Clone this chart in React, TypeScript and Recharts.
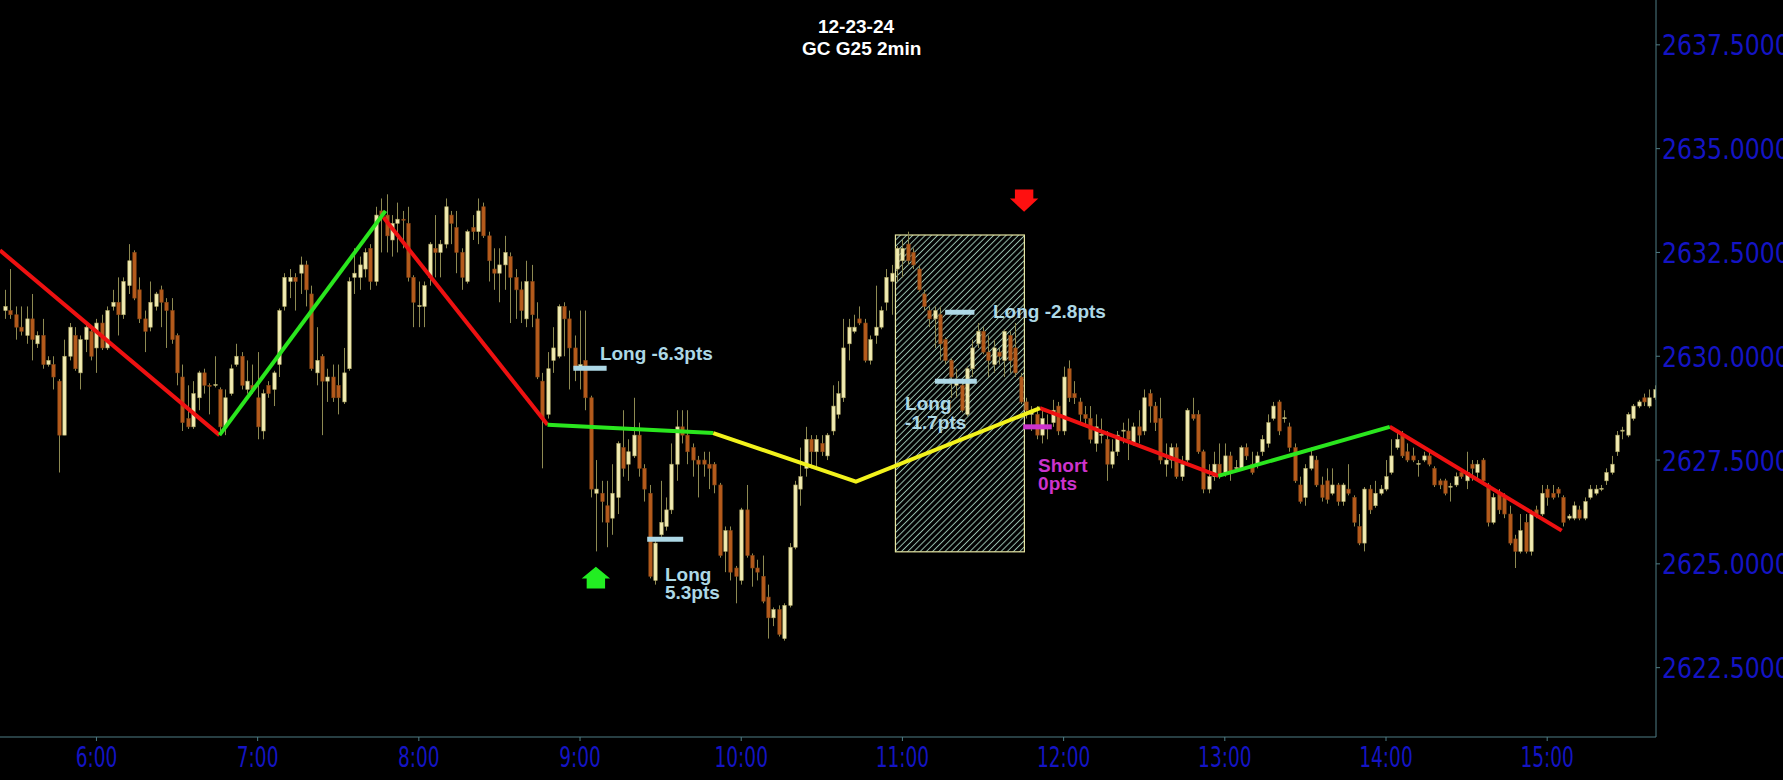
import React from 'react';
import { ComposedChart, Bar, Line, XAxis, YAxis, ReferenceArea, ReferenceDot } from 'recharts';

// ---------- data ----------
const startMinute = 326; // 5:26, 2-minute bars
const barMinutes = 2;

const opens = [
  2631.1, 2631.1, 2631.0, 2630.7, 2630.5, 2630.9, 2630.3, 2630.5, 2629.8, 2629.8,
  2629.4, 2628.1, 2630.0, 2630.5, 2629.6, 2630.4, 2630.6, 2630.2, 2630.8, 2630.2,
  2631.2, 2631.3, 2631.0, 2631.7, 2632.5, 2631.6, 2630.9, 2630.7, 2631.2, 2631.6,
  2631.3, 2631.1, 2630.5, 2629.5, 2628.5, 2628.3, 2629.0, 2629.6, 2629.3, 2629.3,
  2629.2, 2628.3, 2629.1, 2629.8, 2630.0, 2629.2, 2629.3, 2629.0, 2628.2, 2629.3,
  2629.2, 2629.8, 2631.2, 2631.8, 2631.9, 2632.0, 2632.2, 2631.5, 2629.6, 2630.0,
  2629.4, 2629.5, 2629.3, 2628.9, 2629.7, 2631.9, 2631.9, 2632.1, 2632.6, 2631.8,
  2633.5, 2633.4, 2632.8, 2633.2, 2633.3, 2633.2, 2631.9, 2631.2, 2631.2, 2631.9,
  2632.6, 2632.5, 2632.7, 2633.4, 2633.1, 2632.5, 2631.8, 2633.1, 2633.0, 2633.6,
  2632.9, 2632.1, 2632.0, 2632.2, 2632.4, 2631.9, 2631.6, 2630.9, 2631.8, 2630.9,
  2629.4, 2628.6, 2629.9, 2630.0, 2631.2, 2630.9, 2630.2, 2629.7, 2629.9, 2629.0,
  2626.7, 2626.7, 2626.4, 2626.1, 2626.6, 2627.8, 2627.4, 2627.6, 2628.1, 2627.3,
  2626.7, 2624.6, 2625.7, 2625.9, 2626.3, 2627.4, 2628.3, 2628.1, 2627.8, 2627.5,
  2627.5, 2627.4, 2627.4, 2626.9, 2625.3, 2625.8, 2624.9, 2624.6, 2626.3, 2625.2,
  2624.9, 2624.7, 2624.2, 2623.7, 2623.9, 2623.2, 2624.0, 2625.4, 2626.8, 2627.3,
  2628.0, 2627.7, 2627.9, 2627.6, 2628.2, 2628.6, 2629.0, 2630.3, 2630.6, 2630.9,
  2630.8, 2629.9, 2630.5, 2630.7, 2631.3, 2631.8, 2632.1, 2632.3, 2632.7, 2632.5,
  2632.1, 2631.5, 2631.1, 2630.9, 2631.0, 2630.4, 2629.9, 2629.3, 2629.3, 2628.6,
  2629.7, 2630.3, 2630.6, 2630.1, 2629.8, 2630.1, 2629.9, 2630.5, 2630.2, 2629.5,
  2628.9, 2628.6, 2628.6, 2628.1, 2628.3, 2628.4, 2628.8, 2628.2, 2629.7, 2629.1,
  2628.9, 2628.6, 2628.5, 2627.9, 2628.1, 2628.0, 2627.4, 2627.7, 2628.2, 2628.2,
  2627.9, 2628.3, 2628.2, 2629.1, 2628.8, 2628.5, 2627.4, 2627.5, 2627.8, 2627.1,
  2627.5, 2628.6, 2628.6, 2627.7, 2626.8, 2627.1, 2627.4, 2627.2, 2627.6, 2627.3,
  2627.3, 2627.8, 2627.4, 2627.4, 2627.7, 2627.9, 2628.5, 2628.9, 2628.5, 2628.3,
  2627.8, 2626.9, 2626.6, 2627.3, 2627.5, 2626.9, 2627.0, 2626.7, 2626.9, 2626.5,
  2626.8, 2626.6, 2625.9, 2625.5, 2626.8, 2626.4, 2626.7, 2626.8, 2627.2, 2627.8,
  2628.1, 2627.7, 2627.6, 2627.4, 2627.5, 2627.6, 2627.3, 2627.0, 2627.0, 2626.85,
  2626.9, 2627.2, 2627.0, 2627.4, 2627.2, 2627.5, 2626.9, 2626.0, 2626.7, 2626.6,
  2626.2, 2625.6, 2625.3, 2626.0, 2625.3, 2626.3, 2626.2, 2626.8, 2626.7, 2626.8,
  2626.6, 2626.1, 2626.1, 2626.3, 2626.1, 2626.6, 2626.7, 2626.8, 2627.0, 2627.2,
  2627.7, 2628.2, 2628.1, 2628.5, 2628.8, 2629.0, 2628.8, 2629.0,
];

const highs = [
  2631.6, 2632.1, 2631.2, 2631.2, 2631.2, 2631.5, 2630.6, 2630.9, 2630.0, 2630.0,
  2629.45, 2630.4, 2630.8, 2630.7, 2630.5, 2630.8, 2630.7, 2630.9, 2631.0, 2631.2,
  2631.6, 2631.9, 2631.9, 2632.7, 2632.55, 2631.9, 2631.1, 2631.8, 2631.55, 2631.7,
  2631.4, 2631.4, 2630.55, 2629.8, 2629.3, 2629.4, 2629.65, 2629.7, 2629.35, 2630.0,
  2629.25, 2629.2, 2629.8, 2630.3, 2630.1, 2629.9, 2629.8, 2630.1, 2629.2, 2629.4,
  2629.65, 2631.15, 2632.0, 2632.1, 2632.0, 2632.4, 2632.3, 2631.7, 2630.7, 2630.05,
  2629.7, 2629.8, 2629.8, 2630.2, 2631.9, 2632.6, 2632.4, 2632.6, 2632.7, 2633.6,
  2633.8, 2633.9, 2633.4, 2633.7, 2633.5, 2633.6, 2631.95, 2631.8, 2631.8, 2632.75,
  2633.4, 2632.8, 2633.8, 2633.5, 2633.5, 2632.6, 2633.05, 2633.4, 2633.8, 2633.7,
  2633.0, 2632.6, 2632.6, 2632.9, 2632.5, 2632.1, 2631.8, 2632.3, 2632.2, 2631.3,
  2629.6, 2630.1, 2630.7, 2631.25, 2631.3, 2631.1, 2630.5, 2631.1, 2631.1, 2629.05,
  2627.5, 2627.0, 2627.0, 2627.4, 2627.95, 2628.7, 2628.0, 2629.0, 2628.4, 2627.4,
  2626.9, 2625.6, 2627.0, 2626.6, 2627.9, 2628.7, 2628.7, 2628.7, 2627.9, 2627.6,
  2627.7, 2627.7, 2627.45, 2626.95, 2625.9, 2625.9, 2624.95, 2626.35, 2626.9, 2625.25,
  2625.1, 2625.2, 2624.5, 2623.95, 2624.0, 2624.05, 2625.5, 2627.0, 2627.8, 2628.3,
  2628.1, 2628.1, 2628.1, 2628.15, 2629.3, 2629.4, 2630.9, 2630.9, 2631.0, 2631.2,
  2630.9, 2630.5, 2631.7, 2631.2, 2632.1, 2632.2, 2632.65, 2632.8, 2633.0, 2632.6,
  2632.2, 2631.6, 2631.2, 2631.2, 2631.2, 2630.45, 2629.95, 2629.7, 2629.4, 2629.75,
  2630.4, 2630.8, 2630.7, 2630.5, 2630.4, 2630.2, 2630.65, 2630.6, 2630.8, 2629.6,
  2629.0, 2628.8, 2628.8, 2628.75, 2628.6, 2628.95, 2628.9, 2629.75, 2629.9, 2629.4,
  2629.0, 2628.8, 2628.8, 2628.6, 2628.5, 2628.2, 2628.0, 2628.2, 2628.4, 2628.5,
  2628.4, 2628.7, 2629.2, 2629.2, 2628.9, 2629.0, 2627.9, 2627.9, 2627.9, 2627.6,
  2628.75, 2629.0, 2628.7, 2627.75, 2627.4, 2627.7, 2627.9, 2627.9, 2627.7, 2627.5,
  2627.85, 2627.9, 2627.7, 2627.7, 2628.1, 2628.6, 2628.9, 2628.95, 2628.7, 2628.4,
  2627.9, 2627.1, 2627.4, 2627.8, 2627.6, 2627.1, 2627.3, 2627.3, 2626.95, 2626.95,
  2627.4, 2626.65, 2626.2, 2626.85, 2626.9, 2627.0, 2626.9, 2627.5, 2628.0, 2628.2,
  2628.2, 2627.9, 2627.8, 2627.5, 2627.7, 2627.7, 2627.35, 2627.05, 2627.05, 2626.95,
  2627.2, 2627.3, 2627.7, 2627.5, 2627.5, 2627.55, 2626.95, 2626.7, 2626.8, 2626.7,
  2626.4, 2625.7, 2626.2, 2626.2, 2626.3, 2626.4, 2626.9, 2626.9, 2626.9, 2626.85,
  2626.65, 2626.2, 2626.5, 2626.4, 2626.6, 2626.9, 2626.9, 2626.9, 2627.3, 2627.6,
  2628.2, 2628.3, 2628.65, 2628.85, 2628.95, 2629.1, 2629.2, 2629.3,
];

const lows = [
  2630.9, 2630.9, 2630.4, 2630.5, 2630.3, 2629.9, 2630.2, 2629.7, 2629.75, 2629.2,
  2627.2, 2628.1, 2629.9, 2629.65, 2629.2, 2630.1, 2629.9, 2629.6, 2630.15, 2630.15,
  2631.1, 2630.5, 2630.9, 2631.5, 2631.35, 2630.8, 2630.1, 2630.6, 2631.1, 2630.7,
  2630.2, 2630.3, 2629.3, 2628.2, 2628.25, 2628.25, 2628.7, 2629.1, 2628.6, 2629.25,
  2628.1, 2628.1, 2629.05, 2629.75, 2629.2, 2629.1, 2629.1, 2628.0, 2628.0, 2629.0,
  2628.8, 2629.5, 2631.1, 2631.4, 2631.1, 2631.5, 2631.2, 2629.65, 2629.3, 2628.1,
  2628.9, 2628.9, 2628.6, 2628.85, 2629.65, 2631.5, 2631.6, 2631.9, 2631.6, 2631.7,
  2632.5, 2632.5, 2632.4, 2632.5, 2632.6, 2631.8, 2630.7, 2630.7, 2630.7, 2631.7,
  2631.9, 2631.9, 2632.6, 2632.7, 2632.0, 2631.6, 2631.75, 2632.8, 2632.7, 2632.85,
  2631.8, 2631.6, 2631.3, 2631.6, 2630.8, 2630.9, 2630.8, 2630.7, 2630.7, 2629.45,
  2627.3, 2628.5, 2629.6, 2629.95, 2630.0, 2629.2, 2629.4, 2629.2, 2628.7, 2626.6,
  2625.3, 2626.0, 2625.4, 2625.7, 2626.2, 2627.1, 2627.0, 2627.55, 2627.1, 2626.5,
  2624.65, 2624.5, 2625.65, 2625.8, 2626.2, 2627.0, 2627.9, 2627.4, 2627.1, 2626.6,
  2627.1, 2626.8, 2626.7, 2625.15, 2624.8, 2624.6, 2624.05, 2624.5, 2625.15, 2624.45,
  2624.6, 2624.05, 2623.2, 2623.5, 2623.25, 2623.15, 2623.95, 2625.35, 2626.4, 2627.1,
  2627.3, 2627.3, 2627.6, 2627.5, 2628.1, 2628.5, 2628.9, 2629.9, 2630.55, 2630.75,
  2629.85, 2629.8, 2630.3, 2630.65, 2631.1, 2631.0, 2631.8, 2631.9, 2632.2, 2632.1,
  2631.55, 2631.1, 2630.7, 2630.2, 2629.9, 2629.8, 2629.0, 2629.0, 2628.65, 2628.55,
  2629.5, 2630.2, 2630.05, 2629.5, 2629.6, 2629.8, 2629.5, 2629.6, 2629.5, 2628.85,
  2628.5, 2628.2, 2628.0, 2627.9, 2628.0, 2628.3, 2628.1, 2628.1, 2628.9, 2628.85,
  2628.4, 2628.3, 2627.9, 2627.7, 2627.9, 2627.0, 2627.3, 2627.6, 2627.9, 2627.5,
  2627.85, 2627.9, 2628.1, 2628.4, 2628.2, 2627.4, 2627.1, 2627.3, 2627.05, 2627.0,
  2627.45, 2628.45, 2627.65, 2626.7, 2626.7, 2627.0, 2627.05, 2627.1, 2627.0, 2627.25,
  2627.25, 2627.5, 2627.15, 2627.3, 2627.6, 2627.8, 2628.45, 2628.1, 2628.4, 2627.7,
  2626.95, 2626.45, 2626.4, 2627.25, 2626.85, 2626.5, 2626.45, 2626.65, 2626.4, 2626.4,
  2626.65, 2625.9, 2625.45, 2625.3, 2626.2, 2626.35, 2626.65, 2626.75, 2627.15, 2627.75,
  2627.55, 2627.45, 2627.45, 2627.1, 2627.45, 2627.35, 2626.85, 2626.8, 2626.65, 2626.5,
  2626.85, 2627.05, 2626.8, 2627.0, 2627.0, 2626.95, 2625.9, 2625.95, 2626.2, 2626.1,
  2625.45, 2624.9, 2625.25, 2625.25, 2625.2, 2626.1, 2626.15, 2626.4, 2626.55, 2626.6,
  2625.9, 2626.05, 2626.05, 2626.05, 2626.05, 2626.55, 2626.65, 2626.75, 2626.9, 2627.15,
  2627.6, 2628.0, 2628.05, 2628.45, 2628.75, 2628.8, 2628.75, 2628.95,
];

const closes = [
  2631.2, 2631.0, 2630.7, 2630.6, 2630.9, 2630.4, 2630.5, 2629.8, 2629.9, 2629.5,
  2628.1, 2630.0, 2630.7, 2629.7, 2630.4, 2630.7, 2630.0, 2630.8, 2630.2, 2631.1,
  2631.3, 2631.0, 2631.8, 2632.3, 2631.4, 2630.9, 2630.6, 2631.3, 2631.5, 2631.3,
  2631.1, 2630.4, 2629.6, 2628.4, 2628.3, 2629.1, 2629.6, 2629.3, 2629.28, 2629.32,
  2628.3, 2629.0, 2629.7, 2630.0, 2629.3, 2629.4, 2629.2, 2628.3, 2629.1, 2629.1,
  2629.6, 2631.1, 2631.9, 2631.9, 2631.8, 2632.2, 2631.6, 2629.7, 2629.9, 2629.4,
  2629.5, 2629.0, 2629.0, 2629.6, 2631.8, 2632.0, 2632.2, 2632.5, 2631.8, 2633.4,
  2633.4, 2632.9, 2633.2, 2633.3, 2633.28, 2631.9, 2631.3, 2631.22, 2631.7, 2632.7,
  2632.5, 2632.7, 2633.6, 2633.2, 2632.5, 2631.9, 2633.0, 2633.0, 2633.5, 2632.9,
  2632.3, 2632.0, 2632.2, 2632.5, 2631.9, 2631.6, 2631.1, 2631.8, 2631.0, 2629.5,
  2628.5, 2629.7, 2630.2, 2631.2, 2630.9, 2630.2, 2629.7, 2629.8, 2629.0, 2626.8,
  2626.8, 2626.5, 2626.0, 2626.7, 2627.9, 2627.3, 2627.7, 2628.1, 2627.3, 2626.8,
  2624.7, 2625.5, 2626.0, 2626.3, 2627.4, 2628.3, 2628.1, 2627.7, 2627.5, 2627.4,
  2627.4, 2627.3, 2626.9, 2625.2, 2625.8, 2624.8, 2624.7, 2626.3, 2625.2, 2624.9,
  2624.8, 2624.1, 2623.7, 2623.9, 2623.3, 2624.0, 2625.4, 2626.9, 2627.1, 2628.0,
  2627.7, 2628.0, 2627.7, 2628.1, 2628.8, 2629.1, 2630.2, 2630.7, 2630.7, 2630.8,
  2629.9, 2630.4, 2630.7, 2631.1, 2631.9, 2632.0, 2632.6, 2632.6, 2632.3, 2632.2,
  2631.6, 2631.2, 2630.9, 2631.1, 2630.3, 2629.9, 2629.5, 2629.4, 2628.7, 2629.7,
  2630.2, 2630.6, 2630.1, 2629.9, 2630.2, 2630.0, 2630.6, 2629.9, 2629.6, 2628.9,
  2628.7, 2628.7, 2628.1, 2628.5, 2628.32, 2628.7, 2628.2, 2629.5, 2629.0, 2629.0,
  2628.6, 2628.5, 2628.0, 2628.3, 2628.12, 2627.4, 2627.7, 2628.1, 2628.22, 2628.0,
  2628.3, 2628.1, 2629.0, 2628.8, 2628.4, 2627.5, 2627.5, 2627.8, 2627.1, 2627.4,
  2628.7, 2628.5, 2627.7, 2626.8, 2627.1, 2627.4, 2627.1, 2627.6, 2627.2, 2627.32,
  2627.8, 2627.6, 2627.2, 2627.6, 2628.0, 2628.4, 2628.8, 2628.2, 2628.52, 2627.8,
  2627.0, 2626.5, 2627.3, 2627.6, 2626.9, 2626.6, 2626.55, 2626.9, 2626.5, 2626.9,
  2626.7, 2626.0, 2625.5, 2626.8, 2626.3, 2626.7, 2626.8, 2627.1, 2627.6, 2628.0,
  2627.6, 2627.5, 2627.5, 2627.42, 2627.6, 2627.4, 2626.9, 2626.9, 2626.7, 2626.87,
  2627.1, 2627.1, 2627.2, 2627.3, 2627.4, 2627.0, 2626.0, 2626.6, 2626.3, 2626.2,
  2625.5, 2625.3, 2625.8, 2625.3, 2626.2, 2626.2, 2626.7, 2626.6, 2626.6, 2626.7,
  2626.0, 2626.15, 2626.4, 2626.1, 2626.5, 2626.8, 2626.8, 2626.82, 2627.2, 2627.4,
  2628.1, 2628.22, 2628.6, 2628.8, 2628.9, 2628.9, 2629.0, 2629.2,
];

const hourTicks = [360, 420, 480, 540, 600, 660, 720, 780, 840, 900];
const hourLabels = ['6:00', '7:00', '8:00', '9:00', '10:00', '11:00', '12:00', '13:00', '14:00', '15:00'];
const priceTicks = [2622.5, 2625, 2627.5, 2630, 2632.5, 2635, 2637.5];

// swing lines: [minute, price]
const redSwings = [
  [[324.1, 2632.55], [405.8, 2628.1]],
  [[466.8, 2633.35], [527.9, 2628.35]],
  [[711.2, 2628.75], [777.6, 2627.12]],
  [[841.4, 2628.3], [905.4, 2625.8]],
];
const greenSwings = [
  [[405.8, 2628.1], [467.6, 2633.5]],
  [[527.9, 2628.35], [589.6, 2628.15]],
  [[777.6, 2627.12], [841.4, 2628.3]],
];
const yellowSwing = [[589.6, 2628.15], [642.7, 2626.98], [711.2, 2628.75]];

// trade marks: [fromMinute, toMinute, price]
const longMarks = [
  [537.5, 549.9, 2629.71],
  [565.0, 578.4, 2625.59],
  [675.9, 686.8, 2631.06],
  [672.1, 687.7, 2629.40],
];
const shortMarks = [[705.0, 715.6, 2628.30]];

const longLabels = [
  { text: ['Long -6.3pts'], m: 547.4, p: 2629.92 },
  { text: ['Long', '5.3pts'], m: 571.6, p: 2624.59 },
  { text: ['Long -2.8pts'], m: 693.7, p: 2630.92 },
  { text: ['Long', '-1.7pts'], m: 661.0, p: 2628.70 },
];
const shortLabels = [{ text: ['Short', '0pts'], m: 710.5, p: 2627.22 }];

const buyArrow = { m: 545.9, p: 2624.65 };
const sellArrow = { m: 705.3, p: 2633.80 };

const zone = { m1: 657.4, m2: 705.4, p1: 2625.29, p2: 2632.92 };

// ---------- styles ----------
const axisColor = '#4f7d85';
const axisTextColor = '#1414c4';
const wickColor = '#8e8a52';
const upFill = '#f2ebb2';
const upStroke = '#b0a866';
const downFill = '#b55b1c';
const downStroke = '#8a4716';
const redLine = '#ee1111';
const greenLine = '#2ae61e';
const yellowLine = '#f2f21c';
const lightBlue = '#add8e6';
const magenta = '#cc33cc';
const labelFont = "'Liberation Sans', Arial, sans-serif";

const candleData = opens.map((o, i) => ({
  m: startMinute + i * barMinutes,
  o,
  h: highs[i],
  l: lows[i],
  c: closes[i],
  range: [lows[i], highs[i]],
}));

function Candle(props: any) {
  const { x, y, width, height, payload } = props;
  if (!payload || x == null || y == null) return <g />;
  const { o, h, l, c } = payload;
  const top = Math.min(y, y + height);
  const span = Math.abs(height);
  const hi = Math.max(h, o, c);
  const lo = Math.min(l, o, c);
  const py = (p: number) => (hi === lo ? top : top + ((hi - p) / (hi - lo)) * span);
  const cx = Math.round(x + width / 2) + 0.5;
  const up = c >= o;
  const bTop = py(Math.max(o, c));
  const bBot = py(Math.min(o, c));
  const bh = Math.max(1, bBot - bTop);
  return (
    <g>
      <line x1={cx} x2={cx} y1={top} y2={top + span} stroke={wickColor} strokeWidth={1} />
      <rect
        x={cx - 1.7}
        y={bTop}
        width={3.4}
        height={bh}
        fill={up ? upFill : downFill}
        stroke={up ? upStroke : downStroke}
        strokeWidth={0.6}
      />
    </g>
  );
}

function HatchBox(props: any) {
  const { x, y, width, height } = props;
  return (
    <g>
      <defs>
        <pattern id="zoneHatch" patternUnits="userSpaceOnUse" width={4.4} height={4.4} patternTransform="rotate(45)">
          <line x1={2.2} y1={0} x2={2.2} y2={4.4} stroke="#98bfae" strokeWidth={1} />
        </pattern>
      </defs>
      <rect x={x} y={y} width={width} height={height} fill="url(#zoneHatch)" stroke="#e6e6a2" strokeWidth={1.2} />
    </g>
  );
}

function XTick(props: any) {
  const { x, y, payload } = props;
  const idx = hourTicks.indexOf(payload.value);
  return (
    <text
      transform={`translate(${x},${y}) scale(0.64,1)`}
      x={0}
      y={0}
      dy={23.5}
      textAnchor="middle"
      fill={axisTextColor}
      fontSize={29}
      fontFamily="'DejaVu Sans', Verdana, sans-serif"
    >
      {idx >= 0 ? hourLabels[idx] : ''}
    </text>
  );
}

function YTick(props: any) {
  const { x, y, payload } = props;
  return (
    <text
      transform={`translate(${x},${y}) scale(0.83,1)`}
      x={0}
      y={0}
      dy={10.5}
      textAnchor="start"
      fill={axisTextColor}
      fontSize={28.5}
      fontFamily="'DejaVu Sans', Verdana, sans-serif"
    >
      {Number(payload.value).toFixed(4)}
    </text>
  );
}

const makeLabel = (lines: string[], color: string) => (p: any) => (
  <text x={p.cx} y={p.cy} fill={color} fontSize={19} fontWeight="bold" fontFamily={labelFont}>
    {lines.map((t, i) => (
      <tspan key={i} x={p.cx} dy={i === 0 ? 0 : 18.5}>
        {t}
      </tspan>
    ))}
  </text>
);

const UpArrow = (p: any) => {
  const { cx, cy } = p;
  const pts = [
    [cx, cy - 11.7], [cx + 14.2, cy], [cx + 9.2, cy], [cx + 9.2, cy + 10],
    [cx - 9.2, cy + 10], [cx - 9.2, cy], [cx - 14.2, cy],
  ].map((q) => q.join(',')).join(' ');
  return <polygon points={pts} fill="#22ee22" />;
};

const DownArrow = (p: any) => {
  const { cx, cy } = p;
  const pts = [
    [cx - 9.2, cy - 9], [cx + 9.2, cy - 9], [cx + 9.2, cy], [cx + 14.2, cy],
    [cx, cy + 13.3], [cx - 14.2, cy], [cx - 9.2, cy],
  ].map((q) => q.join(',')).join(' ');
  return <polygon points={pts} fill="#ff1010" />;
};

const toPts = (seg: number[][]) => seg.map(([m, p]) => ({ m, p }));

export default function App() {
  return (
    <div
      style={{
        position: 'fixed',
        left: 0,
        top: 0,
        width: 1783,
        height: 780,
        background: '#000',
        overflow: 'hidden',
      }}
    >
      <ComposedChart width={1783} height={780} data={candleData} margin={{ top: 0, right: 0, bottom: 0, left: 0 }}>
        <XAxis
          dataKey="m"
          type="number"
          domain={[324.1, 940.5]}
          allowDataOverflow
          ticks={hourTicks}
          interval={0}
          tick={<XTick />}
          tickSize={4}
          height={43}
          stroke={axisColor}
          axisLine={{ stroke: axisColor }}
          tickLine={{ stroke: axisColor }}
        />
        <YAxis
          orientation="right"
          type="number"
          domain={[2620.83, 2638.58]}
          allowDataOverflow
          ticks={priceTicks}
          interval={0}
          tick={<YTick />}
          tickSize={4}
          width={127}
          stroke={axisColor}
          axisLine={{ stroke: axisColor }}
          tickLine={{ stroke: axisColor }}
        />
        <ReferenceArea
          x1={zone.m1}
          x2={zone.m2}
          y1={zone.p1}
          y2={zone.p2}
          ifOverflow="visible"
          shape={HatchBox}
        />
        <Bar dataKey="range" barSize={4} shape={Candle} isAnimationActive={false} />
        {redSwings.map((seg, i) => (
          <Line
            key={`r${i}`}
            data={toPts(seg)}
            dataKey="p"
            type="linear"
            stroke={redLine}
            strokeWidth={4}
            dot={false}
            activeDot={false}
            isAnimationActive={false}
          />
        ))}
        {greenSwings.map((seg, i) => (
          <Line
            key={`g${i}`}
            data={toPts(seg)}
            dataKey="p"
            type="linear"
            stroke={greenLine}
            strokeWidth={4}
            dot={false}
            activeDot={false}
            isAnimationActive={false}
          />
        ))}
        <Line
          data={toPts(yellowSwing)}
          dataKey="p"
          type="linear"
          stroke={yellowLine}
          strokeWidth={4}
          dot={false}
          activeDot={false}
          isAnimationActive={false}
        />
        {longMarks.map(([m1, m2, p], i) => (
          <Line
            key={`lm${i}`}
            data={[{ m: m1, p }, { m: m2, p }]}
            dataKey="p"
            type="linear"
            stroke={lightBlue}
            strokeWidth={5}
            dot={false}
            activeDot={false}
            isAnimationActive={false}
          />
        ))}
        {shortMarks.map(([m1, m2, p], i) => (
          <Line
            key={`sm${i}`}
            data={[{ m: m1, p }, { m: m2, p }]}
            dataKey="p"
            type="linear"
            stroke={magenta}
            strokeWidth={5}
            dot={false}
            activeDot={false}
            isAnimationActive={false}
          />
        ))}
        {longLabels.map((lb, i) => (
          <ReferenceDot key={`ll${i}`} x={lb.m} y={lb.p} r={0} ifOverflow="visible" shape={makeLabel(lb.text, lightBlue)} />
        ))}
        {shortLabels.map((lb, i) => (
          <ReferenceDot key={`sl${i}`} x={lb.m} y={lb.p} r={0} ifOverflow="visible" shape={makeLabel(lb.text, magenta)} />
        ))}
        <ReferenceDot x={buyArrow.m} y={buyArrow.p} r={0} ifOverflow="visible" shape={UpArrow} />
        <ReferenceDot x={sellArrow.m} y={sellArrow.p} r={0} ifOverflow="visible" shape={DownArrow} />
      </ComposedChart>
      <svg
        width={1783}
        height={80}
        style={{ position: 'absolute', left: 0, top: 0, pointerEvents: 'none' }}
      >
        <text x={856} y={33} textAnchor="middle" fill="#ffffff" fontSize={19} fontWeight="bold" fontFamily={labelFont}>
          12-23-24
        </text>
        <text x={861.7} y={54.5} textAnchor="middle" fill="#ffffff" fontSize={19} fontWeight="bold" fontFamily={labelFont}>
          GC G25 2min
        </text>
      </svg>
    </div>
  );
}
